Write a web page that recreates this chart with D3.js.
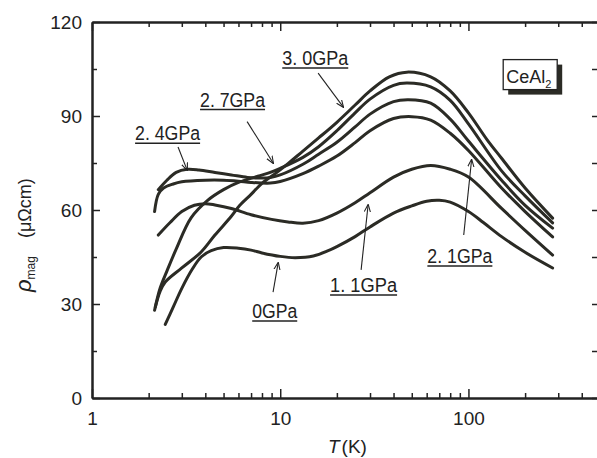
<!DOCTYPE html>
<html>
  <head>
    <meta charset="utf-8">
    <title>CeAl2 magnetic resistivity</title>
    <script src="https://cdn.jsdelivr.net/npm/d3@7"></script>
    <style>
      body { margin: 0; background: #fff; }
      svg { display: block; }
      .tick text { font-family: "Liberation Sans", Arial, sans-serif; font-size: 19px; fill: #222; }
      .domain { stroke: #222; stroke-width: 2; }
      .tick line { stroke: #222; stroke-width: 1.5; }
    </style>
  </head>
  <body>
    <div id="chart"></div>
    <script>
      // rho_mag (uOhm cm) against T (K), one list per pressure
      const p00 = [[2.45, 23.5], [2.7, 29], [3.0, 35], [3.4, 41], [3.8, 45], [4.3, 47], [5, 48], [6, 47.8], [7, 47.2],
        [8, 46.3], [10, 45.2], [12, 44.8], [15, 45.3], [18, 47], [20, 48.3], [25, 51.5], [30, 54.6], [40, 59],
        [50, 61.3], [60, 62.8], [70, 63.1], [80, 62.5], [100, 59.5], [120, 56], [150, 51.5], [200, 46.5], [280, 41.5]];
      const p11 = [[2.25, 52], [2.6, 56], [3, 59.5], [3.5, 61.5], [4, 62], [4.5, 61.6], [5.5, 60.5], [7, 58.5], [9, 57],
        [11, 56.2], [13.2, 55.8], [16, 56.6], [20, 59], [25, 62.3], [30, 65.5], [40, 70.5], [50, 73], [63, 74.2],
        [80, 73], [100, 70.5], [150, 60.5], [200, 53.5], [280, 45.6]];
      const p21 = [[2.15, 59.5], [2.25, 65], [2.4, 67], [2.7, 68.3], [3, 69], [4, 69.5], [5, 69.5], [6, 69.2], [7, 68.8],
        [8.86, 68.6], [10, 69.1], [13.2, 71.6], [16, 74], [20, 77.2], [25, 81.5], [30, 85.3], [40, 89.2], [50, 89.8],
        [63, 88.7], [80, 84.5], [100, 79], [150, 67], [200, 59.5], [280, 51.4]];
      const p24 = [[2.25, 66.5], [2.5, 69.5], [2.8, 72], [3.2, 73], [3.7, 72.8], [4.5, 72], [5.5, 71.2], [6.7, 70.4],
        [8, 70.2], [8.86, 70.4], [10, 71.2], [13.2, 74.6], [16, 77.8], [20, 81.6], [25, 86.5], [30, 90.6], [40, 94.6],
        [48, 95.2], [63, 94.1], [80, 89], [100, 82], [150, 69.5], [200, 61.5], [280, 54.2]];
      const p27 = [[2.15, 28], [2.3, 35], [2.5, 40.5], [2.8, 47.5], [3.36, 57.5], [4.1, 63], [5, 66.5], [6, 68.8],
        [7.6, 70.8], [8.86, 72], [10, 73.3], [13.2, 76.8], [16, 80.2], [20, 85.3], [25, 91], [30, 95.4], [40, 99.8],
        [47, 100.5], [63, 99.3], [80, 95], [100, 87.5], [150, 72.5], [200, 64.5], [280, 55.9]];
      const p30 = [[2.17, 29], [2.3, 34], [2.45, 37], [3, 41.5], [3.8, 46.6], [4.5, 52], [5.5, 58], [6.1, 61.5], [7, 65],
        [8, 68.5], [9.6, 72], [11, 74.8], [13.2, 78.8], [16, 83], [20, 88], [25, 93.5], [30, 98], [38, 102.5],
        [47, 104], [63, 102.5], [80, 98], [100, 91], [126, 82.3], [150, 76.5], [200, 67], [280, 57.4]];

      // pressure labels, anchored in data units: [T, rho] of text, arrow tail, arrow head
      const labelText = ["0GPa", "1. 1GPa", "2. 1GPa", "2. 4GPa", "2. 7GPa", "3. 0GPa"];
      const labelAt = [[7.1, 25.5], [18.4, 33.8], [60.5, 43.1], [1.694, 82.3], [3.75, 93.0], [10.25, 106.3]];
      const arrowFrom = [[9.16, 33.8], [26.9, 40.9], [94.4, 52.0], [2.865, 80.1], [6.67, 88.2], [15.9, 103.7]];
      const arrowTo = [[9.75, 43.1], [29.3, 61.6], [103.9, 76.0], [3.2, 72.8], [9.17, 75.0], [21.6, 92.9]];

      // axis ticks
      const xMajor = [1, 10, 100];
      const yMajor = [0, 30, 60, 90, 120];
      const yMinor = [15, 45, 75, 105];

      const width = 597, height = 458;
      const svg = d3.select("#chart").append("svg")
        .attr("width", width)
        .attr("height", height);

      const x = d3.scaleLog().domain([1, 500]).range([92, 600]);
      const y = d3.scaleLinear().domain([0, 120]).range([398, 22]);
      const xMinor = x.ticks().filter(function(d) { return xMajor.indexOf(d) < 0; });

      // axes, ticks pointing inwards
      svg.append("g").attr("transform", "translate(0," + y(0) + ")")
        .call(d3.axisBottom(x).tickValues(xMinor).tickSize(-5).tickSizeOuter(0).tickFormat(""));
      svg.append("g").attr("transform", "translate(0," + y(0) + ")")
        .call(d3.axisBottom(x).tickValues(xMajor).tickSize(-9).tickSizeOuter(0).tickPadding(14).tickFormat(d3.format("d")));
      svg.append("g").attr("transform", "translate(0," + y(120) + ")")
        .call(d3.axisTop(x).tickValues(xMinor).tickSize(-5).tickSizeOuter(0).tickFormat(""));
      svg.append("g").attr("transform", "translate(0," + y(120) + ")")
        .call(d3.axisTop(x).tickValues(xMajor).tickSize(-9).tickSizeOuter(0).tickFormat(""));
      svg.append("g").attr("transform", "translate(" + x(1) + ",0)")
        .call(d3.axisLeft(y).tickValues(yMinor).tickSize(-5).tickSizeOuter(0).tickFormat(""));
      svg.append("g").attr("transform", "translate(" + x(1) + ",0)")
        .call(d3.axisLeft(y).tickValues(yMajor).tickSize(-8).tickSizeOuter(0).tickPadding(10));
      svg.append("g").attr("transform", "translate(" + x(500) + ",0)")
        .call(d3.axisRight(y).tickValues(yMinor.concat(yMajor)).tickSize(-8).tickSizeOuter(0).tickFormat(""));

      // curves
      const line = d3.line()
        .x(function(d) { return x(d[0]); })
        .y(function(d) { return y(d[1]); })
        .curve(d3.curveCatmullRom.alpha(0.5));
      svg.append("g").selectAll("path")
          .data([p00, p11, p21, p24, p27, p30])
        .enter().append("path")
          .attr("d", line)
          .attr("fill", "none")
          .attr("stroke", "#2b2b25")
          .attr("stroke-width", 3)
          .attr("stroke-linecap", "round")
          .attr("stroke-linejoin", "round");

      // arrows and labels
      svg.append("defs").append("marker")
        .attr("id", "head")
        .attr("viewBox", "0 0 10 10")
        .attr("refX", 9).attr("refY", 5)
        .attr("markerWidth", 7).attr("markerHeight", 7)
        .attr("orient", "auto")
        .append("path")
          .attr("d", "M0,1L10,5L0,9")
          .attr("fill", "none")
          .attr("stroke", "#222")
          .attr("stroke-width", 1.4);
      const labelWidth = [45, 67, 65, 65, 65, 66];
      labelText.forEach(function(t, i) {
        svg.append("line")
          .attr("x1", x(arrowFrom[i][0])).attr("y1", y(arrowFrom[i][1]))
          .attr("x2", x(arrowTo[i][0])).attr("y2", y(arrowTo[i][1]))
          .attr("stroke", "#222")
          .attr("stroke-width", 1.1)
          .attr("marker-end", "url(#head)");
        let lx = x(labelAt[i][0]), ly = y(labelAt[i][1]);
        svg.append("text")
          .attr("x", lx).attr("y", ly)
          .attr("textLength", labelWidth[i])
          .attr("lengthAdjust", "spacingAndGlyphs")
          .style("font-family", "'Liberation Sans', Arial, sans-serif")
          .style("font-size", "20px")
          .style("fill", "#222")
          .text(t);
        svg.append("line")
          .attr("x1", lx).attr("x2", lx + labelWidth[i])
          .attr("y1", ly + 3).attr("y2", ly + 3)
          .attr("stroke", "#222")
          .attr("stroke-width", 1.5);
      });

      // CeAl2 tag with drop shadow
      let bx = x(153), by = y(108);
      svg.append("rect")
        .attr("x", bx + 5).attr("y", by + 5).attr("width", 54).attr("height", 30)
        .attr("fill", "#2b2b25");
      svg.append("rect")
        .attr("x", bx).attr("y", by).attr("width", 54).attr("height", 30)
        .attr("fill", "#fff").attr("stroke", "#222").attr("stroke-width", 1.3);
      let tag = svg.append("text")
        .attr("x", bx + 3).attr("y", by + 23)
        .style("font-family", "'Liberation Sans', Arial, sans-serif")
        .style("font-size", "18px")
        .style("fill", "#222");
      tag.append("tspan").text("CeAl");
      tag.append("tspan").attr("dy", 5).style("font-size", "11px").text("2");

      // axis titles
      let yTitle = svg.append("text")
        .attr("transform", "translate(31,292) rotate(-90)")
        .style("font-family", "'Liberation Sans', Arial, sans-serif")
        .style("fill", "#222");
      yTitle.append("tspan").style("font-size", "22px").style("font-style", "italic").text("ρ");
      yTitle.append("tspan").attr("dy", 4).style("font-size", "12px").text("mag");
      yTitle.append("tspan").attr("dy", -4).attr("dx", 18).style("font-size", "18px").text("(μΩcm)");

      let xTitle = svg.append("text")
        .attr("x", 328).attr("y", 453)
        .style("font-family", "'Liberation Sans', Arial, sans-serif")
        .style("font-size", "19px")
        .style("fill", "#222");
      xTitle.append("tspan").style("font-style", "italic").text("T");
      xTitle.append("tspan").attr("dx", 2).text("(K)");
    </script>
  </body>
</html>
